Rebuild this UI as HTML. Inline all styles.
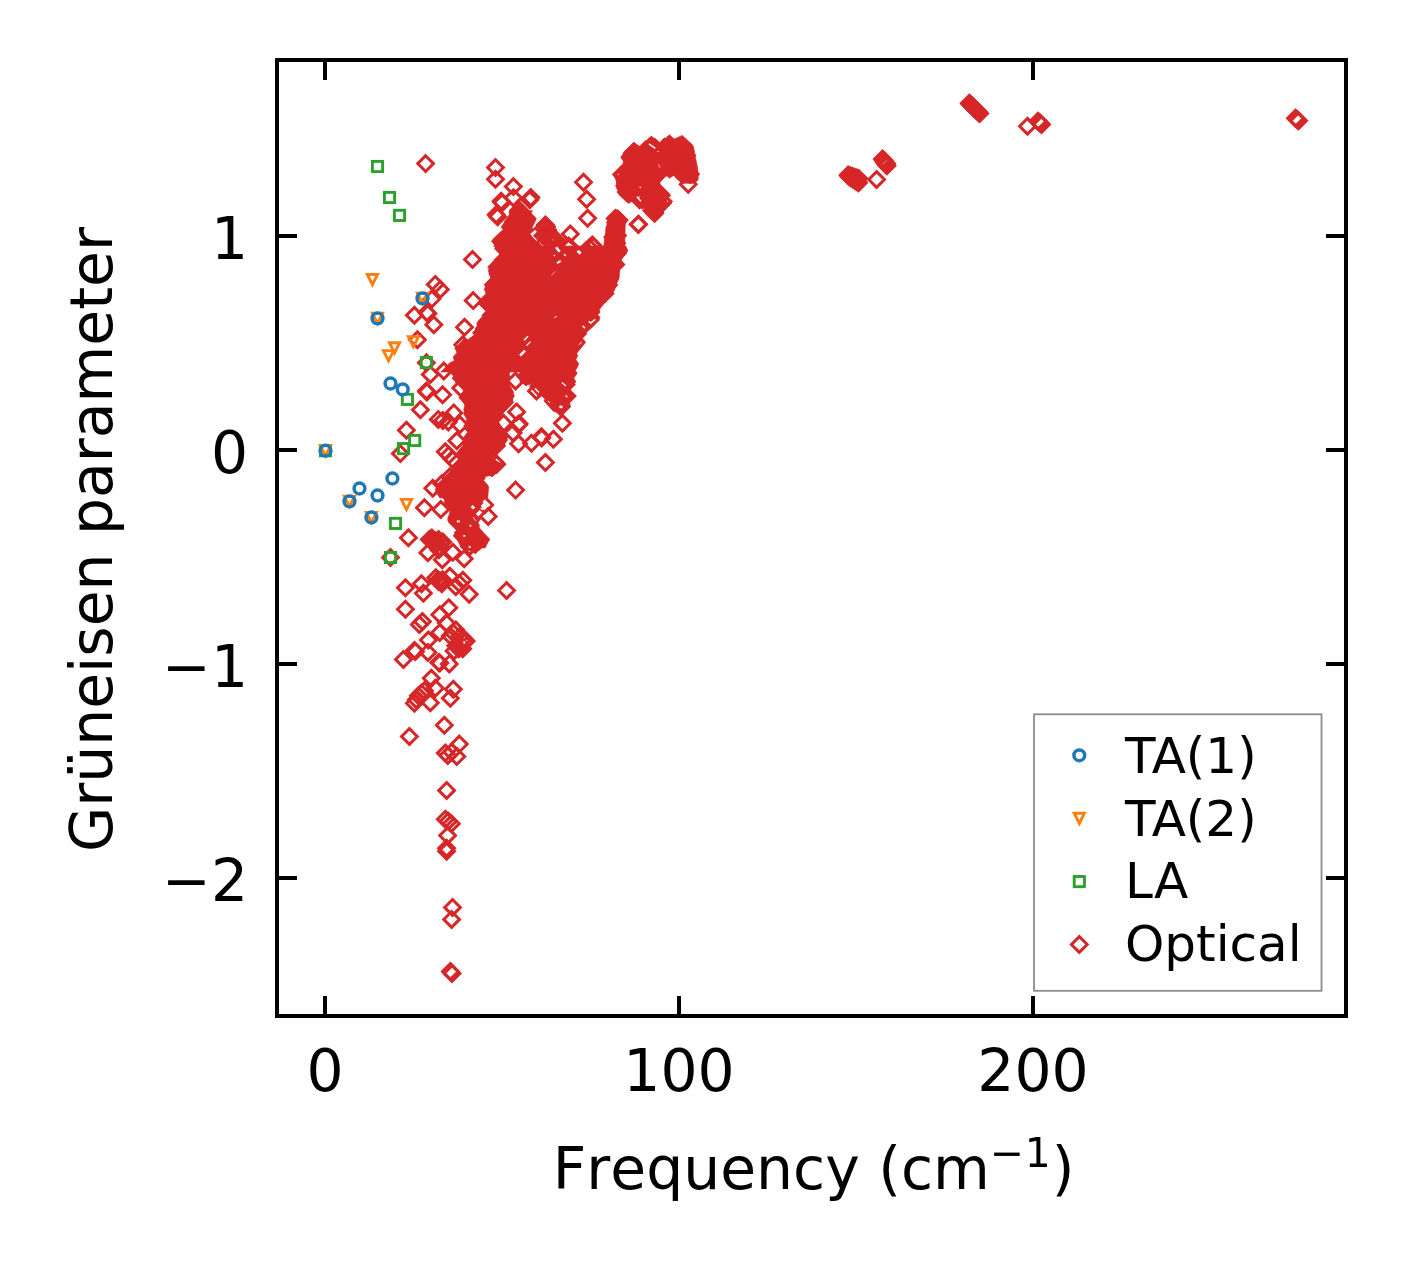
<!DOCTYPE html>
<html><head><meta charset="utf-8"><title>Grüneisen parameter</title>
<style>html,body{margin:0;padding:0;background:#fff}svg{display:block}text{font-family:"DejaVu Sans","Liberation Sans",sans-serif;fill:#000}</style></head><body>
<svg width="1406" height="1264" viewBox="0 0 1406 1264">
<rect width="1406" height="1264" fill="#fff"/>
<defs>
<path id="d" d="M0,-7.875L7.875,0L0,7.875L-7.875,0Z" fill="none" stroke="#d62728" stroke-width="3" stroke-linejoin="miter"/>
<rect id="s" x="-5.1" y="-5.1" width="10.2" height="10.2" fill="none" stroke="#2ca02c" stroke-width="2.9"/>
<path id="t" d="M-5.1,-5.1L5.1,-5.1L0,5.1Z" fill="none" stroke="#ff7f0e" stroke-width="2.9" stroke-linejoin="miter" stroke-miterlimit="10"/>
<circle id="c" r="5.4" fill="none" stroke="#1f77b4" stroke-width="3.5"/>
</defs>
<g fill="#d62728" stroke="#d62728" stroke-width="0.6">
<polygon points="493.7,246.0 500.6,253.5 491.7,263.4 488.2,270.4 490.7,277.9 484.7,287.9 485.7,293.9 481.7,297.8 479.7,304.8 487.2,311.3 479.7,319.8 475.7,328.8 473.7,335.7 467.7,339.7 464.7,338.7 455.8,348.7 456.8,352.7 453.3,356.7 454.3,360.7 449.8,362.7 440.8,372.0 520.0,372.0 520.0,246.0"/>
<polygon points="520.0,199.8 512.6,206.7 508.6,215.7 501.1,227.2 503.1,229.7 492.7,239.6 494.7,246.0 520.0,246.0"/>
<polygon points="650.6,137.4 641.1,146.9 633.7,142.9 623.7,152.9 622.2,156.9 624.2,161.9 622.7,165.9 613.7,174.3 616.2,179.8 617.2,187.8 619.2,194.8 628.2,203.3 634.7,197.3 643.1,207.7 646.6,206.7 644.6,210.7 655.1,221.2 660.0,217.2 660.0,143.9"/>
<polygon points="617.2,209.2 608.2,218.2 606.7,225.7 605.2,233.7 603.7,246.0 624.7,246.0 625.2,225.7 626.7,218.7"/>
<polygon points="520.0,202.8 524.0,206.7 527.0,210.7 532.5,210.7 530.5,214.2 536.0,219.7 532.0,227.7 535.0,229.7 530.0,233.7 534.0,239.6 537.9,246.0 520.0,246.0"/>
<polygon points="633.4,142.9 640.9,149.4 650.3,137.4 659.3,144.9 669.3,134.7 674.3,138.9 682.3,135.4 692.7,144.9 694.2,149.9 695.7,158.9 697.2,165.8 698.2,173.8 698.2,179.8 694.7,183.3 681.8,183.3 673.8,175.3 669.8,178.3 664.8,174.8 659.3,180.8 659.8,184.3 670.8,195.2 668.8,197.7 672.8,201.2 654.3,221.2 644.4,211.7 646.9,208.2 645.4,205.7 641.9,207.2 634.4,199.7 628.9,203.2 619.4,194.7 617.9,188.8 616.0,179.8 613.5,174.3 622.4,165.8 623.9,159.9 622.4,155.9 623.9,151.9"/>
<polygon points="520.0,246.0 625.7,246.0 627.7,250.0 620.7,261.0 623.7,264.4 619.7,268.9 619.2,277.9 615.7,285.9 614.7,289.9 607.7,298.8 599.3,309.8 599.8,312.3 596.8,315.8 599.8,319.8 590.8,328.8 587.8,329.7 581.8,337.7 585.8,342.2 576.8,353.2 577.8,355.7 575.8,359.7 578.8,363.6 577.3,367.6 574.3,372.0 520.0,372.0"/>
<polygon points="451.8,372.0 455.8,382.0 464.7,388.9 459.8,396.9 464.7,404.9 463.7,413.9 466.7,418.9 464.7,427.8 467.7,431.8 463.7,437.8 462.8,445.8 457.8,451.8 458.8,459.7 453.8,467.7 449.8,471.7 443.8,477.7 437.8,483.7 435.8,491.6 439.8,498.0 487.7,498.0 488.7,486.7 483.7,480.7 484.7,476.7 494.7,474.7 502.6,464.7 489.7,456.7 499.6,451.8 507.6,439.8 504.6,431.8 498.6,421.9 503.6,411.9 512.6,401.9 513.6,391.9 507.6,382.0 509.6,372.0"/>
<polygon points="520.0,372.0 576.8,372.0 576.8,374.0 573.8,378.0 575.3,382.0 569.9,389.9 572.8,395.9 567.9,400.9 570.3,404.4 560.9,413.9 552.9,410.9 543.9,400.9 545.9,397.9 541.4,395.9 539.4,397.4 530.0,387.0 532.0,383.0 526.0,385.0 520.0,382.0"/>
<polygon points="444.2,498.0 445.0,505.0 450.2,510.1 448.5,516.9 447.6,520.3 454.4,526.3 457.9,529.7 454.4,534.9 457.9,540.9 461.3,547.9 467.7,549.8 475.7,553.8 479.7,547.9 485.2,547.9 489.5,539.1 486.9,536.6 480.9,530.6 478.3,525.4 478.3,518.6 474.9,513.5 478.3,508.4 480.9,503.2 485.2,498.0"/>
</g>
<g>
<use href="#d" x="472.5" y="259.5"/>
<use href="#d" x="435.3" y="284.4"/>
<use href="#d" x="440.3" y="289.4"/>
<use href="#d" x="431.8" y="299.0"/>
<use href="#d" x="426.9" y="312.6"/>
<use href="#d" x="427.9" y="313.6"/>
<use href="#d" x="414.4" y="315.3"/>
<use href="#d" x="433.8" y="324.8"/>
<use href="#d" x="417.4" y="339.7"/>
<use href="#d" x="473.2" y="300.6"/>
<use href="#d" x="464.5" y="327.3"/>
<use href="#d" x="426.4" y="362.7"/>
<use href="#d" x="462.8" y="344.7"/>
<use href="#d" x="425.6" y="163.6"/>
<use href="#d" x="495.5" y="167.6"/>
<use href="#d" x="495.5" y="179.3"/>
<use href="#d" x="513.4" y="186.6"/>
<use href="#d" x="513.4" y="197.8"/>
<use href="#d" x="501.1" y="201.3"/>
<use href="#d" x="502.1" y="202.8"/>
<use href="#d" x="496.2" y="214.7"/>
<use href="#d" x="497.6" y="216.7"/>
<use href="#d" x="583.5" y="182.3"/>
<use href="#d" x="586.6" y="199.3"/>
<use href="#d" x="587.6" y="218.2"/>
<use href="#d" x="570.3" y="234.0"/>
<use href="#d" x="638.4" y="224.2"/>
<use href="#d" x="530.8" y="197.6"/>
<use href="#d" x="529.8" y="199.8"/>
<use href="#d" x="545.4" y="225.0"/>
<use href="#d" x="546.4" y="226.7"/>
<use href="#d" x="543.4" y="228.2"/>
<use href="#d" x="547.4" y="229.7"/>
<use href="#d" x="548.9" y="233.2"/>
<use href="#d" x="545.9" y="234.7"/>
<use href="#d" x="550.9" y="236.7"/>
<use href="#d" x="552.9" y="239.6"/>
<use href="#d" x="548.9" y="241.1"/>
<use href="#d" x="542.9" y="235.7"/>
<use href="#d" x="544.9" y="242.6"/>
<use href="#d" x="568.9" y="246.1"/>
<use href="#d" x="639.6" y="199.8"/>
<use href="#d" x="638.4" y="224.5"/>
<use href="#d" x="688.2" y="184.3"/>
<use href="#d" x="650.3" y="147.7"/>
<use href="#d" x="651.3" y="149.1"/>
<use href="#d" x="568.9" y="247.8"/>
<use href="#d" x="592.3" y="245.0"/>
<use href="#d" x="589.5" y="247.8"/>
<use href="#d" x="586.6" y="250.6"/>
<use href="#d" x="583.8" y="253.3"/>
<use href="#d" x="593.3" y="246.5"/>
<use href="#d" x="552.9" y="243.8"/>
<use href="#d" x="555.9" y="239.8"/>
<use href="#d" x="430.3" y="374.5"/>
<use href="#d" x="443.8" y="371.0"/>
<use href="#d" x="426.4" y="390.9"/>
<use href="#d" x="426.9" y="391.9"/>
<use href="#d" x="442.6" y="394.7"/>
<use href="#d" x="420.4" y="409.7"/>
<use href="#d" x="406.4" y="430.3"/>
<use href="#d" x="400.4" y="453.6"/>
<use href="#d" x="438.3" y="419.4"/>
<use href="#d" x="442.8" y="420.4"/>
<use href="#d" x="448.3" y="421.9"/>
<use href="#d" x="453.8" y="412.9"/>
<use href="#d" x="459.8" y="424.8"/>
<use href="#d" x="456.8" y="440.8"/>
<use href="#d" x="460.8" y="388.0"/>
<use href="#d" x="445.3" y="451.8"/>
<use href="#d" x="448.8" y="455.3"/>
<use href="#d" x="452.3" y="459.2"/>
<use href="#d" x="432.8" y="488.2"/>
<use href="#d" x="515.6" y="381.0"/>
<use href="#d" x="516.6" y="411.9"/>
<use href="#d" x="503.6" y="423.3"/>
<use href="#d" x="513.1" y="432.8"/>
<use href="#d" x="518.6" y="443.8"/>
<use href="#d" x="494.7" y="462.2"/>
<use href="#d" x="496.7" y="464.2"/>
<use href="#d" x="515.6" y="490.1"/>
<use href="#d" x="441.8" y="483.7"/>
<use href="#d" x="449.8" y="476.7"/>
<use href="#d" x="562.4" y="423.3"/>
<use href="#d" x="553.4" y="439.3"/>
<use href="#d" x="541.4" y="436.8"/>
<use href="#d" x="541.7" y="438.0"/>
<use href="#d" x="531.5" y="443.3"/>
<use href="#d" x="545.4" y="462.5"/>
<use href="#d" x="519.0" y="423.8"/>
<use href="#d" x="518.6" y="424.8"/>
<use href="#d" x="560.9" y="406.9"/>
<use href="#d" x="566.9" y="395.9"/>
<use href="#d" x="536.5" y="390.9"/>
<use href="#d" x="526.0" y="376.5"/>
<use href="#d" x="390.5" y="557.5"/>
<use href="#d" x="424.4" y="507.7"/>
<use href="#d" x="440.8" y="509.5"/>
<use href="#d" x="408.4" y="537.7"/>
<use href="#d" x="506.6" y="590.5"/>
<use href="#d" x="405.4" y="587.7"/>
<use href="#d" x="405.4" y="609.2"/>
<use href="#d" x="421.4" y="583.7"/>
<use href="#d" x="423.4" y="593.2"/>
<use href="#d" x="437.8" y="580.3"/>
<use href="#d" x="438.3" y="581.3"/>
<use href="#d" x="449.8" y="576.3"/>
<use href="#d" x="462.8" y="580.3"/>
<use href="#d" x="459.3" y="583.5"/>
<use href="#d" x="455.8" y="586.7"/>
<use href="#d" x="469.2" y="594.2"/>
<use href="#d" x="448.8" y="607.7"/>
<use href="#d" x="439.8" y="614.7"/>
<use href="#d" x="429.4" y="539.4"/>
<use href="#d" x="431.8" y="537.9"/>
<use href="#d" x="442.8" y="541.9"/>
<use href="#d" x="427.9" y="552.8"/>
<use href="#d" x="442.3" y="559.8"/>
<use href="#d" x="452.8" y="552.3"/>
<use href="#d" x="464.2" y="558.8"/>
<use href="#d" x="469.7" y="546.4"/>
<use href="#d" x="480.2" y="539.4"/>
<use href="#d" x="464.2" y="535.9"/>
<use href="#d" x="484.7" y="505.0"/>
<use href="#d" x="488.2" y="516.4"/>
<use href="#d" x="472.2" y="507.5"/>
<use href="#d" x="457.8" y="520.9"/>
<use href="#d" x="470.2" y="525.4"/>
<use href="#d" x="435.8" y="544.9"/>
<use href="#d" x="438.8" y="549.8"/>
<use href="#d" x="439.8" y="580.8"/>
<use href="#d" x="435.8" y="577.8"/>
<use href="#d" x="441.8" y="583.7"/>
<use href="#d" x="403.4" y="659.4"/>
<use href="#d" x="409.4" y="736.5"/>
<use href="#d" x="444.3" y="725.2"/>
<use href="#d" x="459.3" y="744.1"/>
<use href="#d" x="431.3" y="678.3"/>
<use href="#d" x="453.3" y="689.3"/>
<use href="#d" x="450.3" y="698.3"/>
<use href="#d" x="435.3" y="688.3"/>
<use href="#d" x="430.3" y="702.8"/>
<use href="#d" x="414.4" y="703.3"/>
<use href="#d" x="416.4" y="699.8"/>
<use href="#d" x="418.4" y="695.8"/>
<use href="#d" x="421.4" y="693.3"/>
<use href="#d" x="424.4" y="690.8"/>
<use href="#d" x="419.4" y="624.5"/>
<use href="#d" x="422.4" y="621.5"/>
<use href="#d" x="428.4" y="640.0"/>
<use href="#d" x="414.4" y="650.4"/>
<use href="#d" x="415.4" y="651.4"/>
<use href="#d" x="427.9" y="652.4"/>
<use href="#d" x="439.8" y="632.5"/>
<use href="#d" x="438.8" y="662.4"/>
<use href="#d" x="439.8" y="663.1"/>
<use href="#d" x="449.3" y="663.9"/>
<use href="#d" x="446.3" y="623.0"/>
<use href="#d" x="455.8" y="630.0"/>
<use href="#d" x="453.3" y="633.0"/>
<use href="#d" x="450.3" y="636.0"/>
<use href="#d" x="464.2" y="642.4"/>
<use href="#d" x="456.8" y="756.5"/>
<use href="#d" x="445.3" y="753.0"/>
<use href="#d" x="447.8" y="755.5"/>
<use href="#d" x="451.8" y="752.0"/>
<use href="#d" x="446.6" y="790.4"/>
<use href="#d" x="445.3" y="819.3"/>
<use href="#d" x="448.3" y="821.3"/>
<use href="#d" x="451.3" y="823.8"/>
<use href="#d" x="447.6" y="835.5"/>
<use href="#d" x="446.6" y="848.2"/>
<use href="#d" x="446.6" y="851.2"/>
<use href="#d" x="452.5" y="907.4"/>
<use href="#d" x="451.6" y="919.4"/>
<use href="#d" x="450.4" y="971.5"/>
<use href="#d" x="452.0" y="973.5"/>
<use href="#d" x="848.2" y="175.1"/>
<use href="#d" x="850.3" y="175.8"/>
<use href="#d" x="852.4" y="176.5"/>
<use href="#d" x="854.6" y="177.2"/>
<use href="#d" x="856.7" y="177.9"/>
<use href="#d" x="858.8" y="178.6"/>
<use href="#d" x="849.0" y="176.5"/>
<use href="#d" x="850.9" y="177.7"/>
<use href="#d" x="852.8" y="179.0"/>
<use href="#d" x="854.7" y="180.2"/>
<use href="#d" x="856.6" y="181.5"/>
<use href="#d" x="858.5" y="182.7"/>
<use href="#d" x="853.0" y="178.5"/>
<use href="#d" x="856.0" y="180.5"/>
<use href="#d" x="876.6" y="179.5"/>
<use href="#d" x="882.5" y="159.0"/>
<use href="#d" x="883.6" y="160.7"/>
<use href="#d" x="884.7" y="162.4"/>
<use href="#d" x="885.8" y="164.1"/>
<use href="#d" x="886.9" y="165.8"/>
<use href="#d" x="884.0" y="160.5"/>
<use href="#d" x="886.5" y="163.5"/>
<use href="#d" x="969.3" y="103.3"/>
<use href="#d" x="970.4" y="104.4"/>
<use href="#d" x="971.6" y="105.5"/>
<use href="#d" x="972.7" y="106.7"/>
<use href="#d" x="973.9" y="107.8"/>
<use href="#d" x="975.0" y="108.9"/>
<use href="#d" x="976.2" y="110.0"/>
<use href="#d" x="977.3" y="111.2"/>
<use href="#d" x="978.5" y="112.3"/>
<use href="#d" x="979.6" y="113.4"/>
<use href="#d" x="1027.5" y="126.2"/>
<use href="#d" x="1038.0" y="121.3"/>
<use href="#d" x="1039.8" y="122.9"/>
<use href="#d" x="1041.5" y="124.5"/>
<use href="#d" x="1295.5" y="118.2"/>
<use href="#d" x="1297.0" y="119.5"/>
<use href="#d" x="1298.5" y="120.8"/>
<use href="#d" x="504.0" y="248.7"/>
<use href="#d" x="503.3" y="260.3"/>
<use href="#d" x="498.9" y="266.9"/>
<use href="#d" x="497.2" y="267.0"/>
<use href="#d" x="498.3" y="274.0"/>
<use href="#d" x="493.6" y="284.8"/>
<use href="#d" x="493.7" y="289.5"/>
<use href="#d" x="495.4" y="287.5"/>
<use href="#d" x="490.3" y="300.5"/>
<use href="#d" x="487.4" y="303.0"/>
<use href="#d" x="488.5" y="303.8"/>
<use href="#d" x="491.4" y="315.2"/>
<use href="#d" x="486.9" y="321.9"/>
<use href="#d" x="486.0" y="323.8"/>
<use href="#d" x="484.8" y="328.6"/>
<use href="#d" x="482.0" y="332.7"/>
<use href="#d" x="473.0" y="345.5"/>
<use href="#d" x="466.2" y="349.0"/>
<use href="#d" x="464.2" y="348.4"/>
<use href="#d" x="465.9" y="349.2"/>
<use href="#d" x="463.4" y="357.7"/>
<use href="#d" x="456.4" y="369.2"/>
<use href="#d" x="520.1" y="211.0"/>
<use href="#d" x="517.4" y="218.0"/>
<use href="#d" x="513.9" y="221.2"/>
<use href="#d" x="512.1" y="226.2"/>
<use href="#d" x="507.9" y="235.0"/>
<use href="#d" x="500.9" y="241.2"/>
<use href="#d" x="503.7" y="239.7"/>
<use href="#d" x="651.5" y="145.7"/>
<use href="#d" x="645.6" y="150.1"/>
<use href="#d" x="632.8" y="153.4"/>
<use href="#d" x="634.0" y="151.7"/>
<use href="#d" x="631.6" y="159.4"/>
<use href="#d" x="632.7" y="157.8"/>
<use href="#d" x="631.1" y="168.1"/>
<use href="#d" x="624.5" y="172.8"/>
<use href="#d" x="623.3" y="176.0"/>
<use href="#d" x="621.8" y="174.4"/>
<use href="#d" x="625.8" y="182.7"/>
<use href="#d" x="625.9" y="188.0"/>
<use href="#d" x="626.4" y="192.0"/>
<use href="#d" x="641.1" y="193.6"/>
<use href="#d" x="648.8" y="201.9"/>
<use href="#d" x="643.2" y="197.4"/>
<use href="#d" x="654.5" y="212.0"/>
<use href="#d" x="655.0" y="147.7"/>
<use href="#d" x="650.2" y="146.4"/>
<use href="#d" x="616.5" y="222.4"/>
<use href="#d" x="615.2" y="227.5"/>
<use href="#d" x="613.0" y="237.2"/>
<use href="#d" x="614.9" y="241.8"/>
<use href="#d" x="616.5" y="243.2"/>
<use href="#d" x="614.5" y="237.6"/>
<use href="#d" x="617.4" y="235.6"/>
<use href="#d" x="615.1" y="229.8"/>
<use href="#d" x="615.9" y="222.5"/>
<use href="#d" x="618.9" y="220.1"/>
<use href="#d" x="615.3" y="218.6"/>
<use href="#d" x="518.7" y="210.4"/>
<use href="#d" x="518.4" y="212.3"/>
<use href="#d" x="526.8" y="218.5"/>
<use href="#d" x="523.6" y="223.2"/>
<use href="#d" x="526.9" y="242.1"/>
<use href="#d" x="529.9" y="244.4"/>
<use href="#d" x="634.7" y="155.2"/>
<use href="#d" x="647.3" y="150.8"/>
<use href="#d" x="653.6" y="147.4"/>
<use href="#d" x="650.9" y="147.7"/>
<use href="#d" x="664.6" y="147.2"/>
<use href="#d" x="668.0" y="146.0"/>
<use href="#d" x="684.1" y="147.4"/>
<use href="#d" x="684.1" y="151.1"/>
<use href="#d" x="686.5" y="155.5"/>
<use href="#d" x="686.0" y="159.9"/>
<use href="#d" x="685.9" y="164.5"/>
<use href="#d" x="687.6" y="168.9"/>
<use href="#d" x="690.1" y="174.3"/>
<use href="#d" x="689.8" y="173.7"/>
<use href="#d" x="682.8" y="174.5"/>
<use href="#d" x="679.0" y="171.1"/>
<use href="#d" x="660.5" y="172.0"/>
<use href="#d" x="649.0" y="182.5"/>
<use href="#d" x="657.4" y="192.4"/>
<use href="#d" x="660.0" y="193.9"/>
<use href="#d" x="662.1" y="203.2"/>
<use href="#d" x="660.2" y="203.6"/>
<use href="#d" x="654.6" y="213.2"/>
<use href="#d" x="652.0" y="210.4"/>
<use href="#d" x="654.6" y="203.2"/>
<use href="#d" x="640.1" y="197.0"/>
<use href="#d" x="642.4" y="199.8"/>
<use href="#d" x="641.6" y="198.1"/>
<use href="#d" x="629.4" y="193.1"/>
<use href="#d" x="627.1" y="189.0"/>
<use href="#d" x="624.9" y="185.7"/>
<use href="#d" x="626.4" y="177.9"/>
<use href="#d" x="626.9" y="170.8"/>
<use href="#d" x="632.7" y="164.0"/>
<use href="#d" x="631.7" y="155.7"/>
<use href="#d" x="630.1" y="157.3"/>
<use href="#d" x="618.2" y="251.2"/>
<use href="#d" x="617.1" y="253.4"/>
<use href="#d" x="615.6" y="264.4"/>
<use href="#d" x="610.2" y="271.4"/>
<use href="#d" x="609.2" y="279.0"/>
<use href="#d" x="608.4" y="285.1"/>
<use href="#d" x="604.8" y="293.4"/>
<use href="#d" x="601.5" y="294.4"/>
<use href="#d" x="597.6" y="298.6"/>
<use href="#d" x="594.0" y="302.8"/>
<use href="#d" x="590.5" y="312.0"/>
<use href="#d" x="590.6" y="317.6"/>
<use href="#d" x="587.7" y="320.5"/>
<use href="#d" x="579.8" y="329.5"/>
<use href="#d" x="577.3" y="333.7"/>
<use href="#d" x="573.9" y="343.5"/>
<use href="#d" x="571.2" y="347.6"/>
<use href="#d" x="567.3" y="367.0"/>
<use href="#d" x="460.9" y="371.5"/>
<use href="#d" x="463.2" y="378.1"/>
<use href="#d" x="461.6" y="378.2"/>
<use href="#d" x="464.8" y="382.0"/>
<use href="#d" x="469.4" y="395.5"/>
<use href="#d" x="468.4" y="397.8"/>
<use href="#d" x="473.1" y="409.6"/>
<use href="#d" x="473.6" y="412.2"/>
<use href="#d" x="475.0" y="423.2"/>
<use href="#d" x="473.7" y="428.2"/>
<use href="#d" x="473.2" y="425.7"/>
<use href="#d" x="473.1" y="437.4"/>
<use href="#d" x="471.4" y="442.6"/>
<use href="#d" x="466.2" y="452.8"/>
<use href="#d" x="469.2" y="457.7"/>
<use href="#d" x="465.1" y="465.2"/>
<use href="#d" x="461.4" y="467.2"/>
<use href="#d" x="457.1" y="475.2"/>
<use href="#d" x="454.0" y="477.8"/>
<use href="#d" x="446.3" y="491.7"/>
<use href="#d" x="444.5" y="489.5"/>
<use href="#d" x="478.5" y="493.0"/>
<use href="#d" x="478.0" y="486.5"/>
<use href="#d" x="478.4" y="485.5"/>
<use href="#d" x="476.0" y="478.0"/>
<use href="#d" x="483.9" y="467.4"/>
<use href="#d" x="492.0" y="467.6"/>
<use href="#d" x="491.3" y="466.4"/>
<use href="#d" x="486.2" y="464.3"/>
<use href="#d" x="486.7" y="447.5"/>
<use href="#d" x="496.3" y="445.7"/>
<use href="#d" x="494.4" y="443.8"/>
<use href="#d" x="497.2" y="440.6"/>
<use href="#d" x="498.6" y="437.0"/>
<use href="#d" x="497.0" y="434.9"/>
<use href="#d" x="495.7" y="431.7"/>
<use href="#d" x="495.0" y="429.7"/>
<use href="#d" x="490.3" y="416.9"/>
<use href="#d" x="497.4" y="409.0"/>
<use href="#d" x="501.6" y="404.6"/>
<use href="#d" x="504.2" y="402.3"/>
<use href="#d" x="502.7" y="399.7"/>
<use href="#d" x="505.0" y="396.1"/>
<use href="#d" x="501.7" y="388.0"/>
<use href="#d" x="500.6" y="376.2"/>
<use href="#d" x="499.9" y="373.8"/>
<use href="#d" x="567.3" y="372.5"/>
<use href="#d" x="565.9" y="384.5"/>
<use href="#d" x="566.4" y="381.5"/>
<use href="#d" x="564.0" y="383.0"/>
<use href="#d" x="561.2" y="406.2"/>
<use href="#d" x="558.4" y="402.0"/>
<use href="#d" x="546.2" y="390.8"/>
<use href="#d" x="539.2" y="386.3"/>
<use href="#d" x="529.4" y="375.4"/>
<use href="#d" x="454.0" y="502.7"/>
<use href="#d" x="454.5" y="505.5"/>
<use href="#d" x="457.2" y="517.9"/>
<use href="#d" x="458.1" y="522.2"/>
<use href="#d" x="457.6" y="520.0"/>
<use href="#d" x="462.6" y="535.8"/>
<use href="#d" x="463.7" y="532.7"/>
<use href="#d" x="468.0" y="541.0"/>
<use href="#d" x="469.9" y="540.4"/>
<use href="#d" x="475.7" y="543.7"/>
<use href="#d" x="478.7" y="541.3"/>
<use href="#d" x="477.3" y="536.4"/>
<use href="#d" x="473.4" y="532.1"/>
<use href="#d" x="467.7" y="520.6"/>
<use href="#d" x="471.1" y="519.3"/>
<use href="#d" x="471.5" y="505.0"/>
<use href="#d" x="473.6" y="503.0"/>
<use href="#d" x="477.1" y="495.6"/>
<use href="#d" x="432.5" y="540.5"/>
<use href="#d" x="440.5" y="541.9"/>
<use href="#d" x="440.5" y="548.0"/>
<use href="#d" x="435.5" y="540.9"/>
<use href="#d" x="438.5" y="539.4"/>
<use href="#d" x="434.7" y="541.2"/>
<use href="#d" x="441.5" y="582.0"/>
<use href="#d" x="442.5" y="579.7"/>
<use href="#d" x="454.1" y="650.9"/>
<use href="#d" x="463.3" y="638.7"/>
<use href="#d" x="458.8" y="648.7"/>
<use href="#d" x="466.1" y="640.9"/>
<use href="#d" x="455.8" y="645.8"/>
<use href="#d" x="460.1" y="636.5"/>
<use href="#d" x="462.7" y="648.7"/>
<use href="#d" x="458.4" y="642.9"/>
</g>
<g stroke="#fff" fill="none">
<line x1="556.1" y1="247.2" x2="559.7" y2="251.8" stroke-width="2.5"/>
<line x1="577.6" y1="250.8" x2="580.6" y2="253.8" stroke-width="3.0"/>
<line x1="557.1" y1="263.1" x2="560.7" y2="260.8" stroke-width="2.0"/>
<line x1="524.0" y1="340.2" x2="528.0" y2="336.2" stroke-width="1.5"/>
<line x1="526.5" y1="345.7" x2="530.5" y2="341.7" stroke-width="1.2"/>
<line x1="520.0" y1="355.7" x2="525.0" y2="350.7" stroke-width="2.5"/>
<line x1="588.8" y1="321.3" x2="591.0" y2="323.5" stroke-width="1.5"/>
<line x1="590.3" y1="323.3" x2="595.3" y2="319.3" stroke-width="1.5"/>
<line x1="582.8" y1="325.8" x2="584.8" y2="328.3" stroke-width="1.5"/>
<line x1="578.8" y1="344.7" x2="581.8" y2="342.2" stroke-width="1.0"/>
<line x1="551.4" y1="275.4" x2="555.4" y2="271.4" stroke-width="0.6"/>
<line x1="553.9" y1="317.8" x2="556.9" y2="316.3" stroke-width="0.8"/>
<line x1="563.9" y1="254.0" x2="565.9" y2="256.0" stroke-width="1.2"/>
<line x1="553.9" y1="255.0" x2="554.9" y2="256.0" stroke-width="1.2"/>
<line x1="561.9" y1="382.5" x2="565.9" y2="386.0" stroke-width="1.2"/>
<line x1="535.0" y1="388.5" x2="538.9" y2="392.4" stroke-width="1.4"/>
<line x1="565.4" y1="395.4" x2="567.4" y2="397.4" stroke-width="1.2"/>
<line x1="547.9" y1="400.9" x2="549.9" y2="402.9" stroke-width="1.0"/>
<line x1="559.4" y1="406.9" x2="562.4" y2="406.9" stroke-width="2.5"/>
<line x1="471.7" y1="506.0" x2="474.2" y2="508.5" stroke-width="3.0"/>
<line x1="456.8" y1="521.4" x2="459.8" y2="521.4" stroke-width="2.0"/>
<line x1="463.3" y1="535.9" x2="465.2" y2="535.9" stroke-width="1.8"/>
<line x1="468.7" y1="546.9" x2="470.7" y2="546.9" stroke-width="2.0"/>
<line x1="469.7" y1="524.9" x2="471.2" y2="526.4" stroke-width="1.4"/>
<line x1="473.2" y1="516.9" x2="475.7" y2="520.9" stroke-width="0.8"/>
<line x1="480.7" y1="508.0" x2="482.7" y2="510.0" stroke-width="1.2"/>
<line x1="485.7" y1="517.4" x2="488.2" y2="515.4" stroke-width="1.4"/>
<line x1="463.3" y1="642.4" x2="465.2" y2="642.4" stroke-width="2.2"/>
<line x1="449.8" y1="657.9" x2="451.8" y2="660.9" stroke-width="0.8"/>
<line x1="448.8" y1="664.9" x2="450.8" y2="664.9" stroke-width="1.4"/>
<line x1="648.9" y1="143.9" x2="655.3" y2="148.4" stroke-width="1.4"/>
<line x1="658.1" y1="150.9" x2="658.1" y2="152.1" stroke-width="1.2"/>
<line x1="658.6" y1="164.3" x2="659.8" y2="167.8" stroke-width="0.6"/>
<line x1="639.7" y1="186.6" x2="640.7" y2="188.0" stroke-width="1.2"/>
<line x1="636.9" y1="196.7" x2="640.9" y2="201.2" stroke-width="1.4"/>
<line x1="638.4" y1="197.7" x2="639.9" y2="196.7" stroke-width="1.0"/>
<line x1="667.5" y1="200.7" x2="667.5" y2="201.9" stroke-width="1.0"/>
<line x1="618.4" y1="173.8" x2="618.4" y2="175.0" stroke-width="1.0"/>
</g>
<use href="#s" x="325.5" y="450.7"/>
<use href="#s" x="377.5" y="166.5"/>
<use href="#s" x="389.5" y="197.5"/>
<use href="#s" x="399.5" y="215.4"/>
<use href="#s" x="426.4" y="362.6"/>
<use href="#s" x="407.4" y="399.4"/>
<use href="#s" x="414.7" y="440.5"/>
<use href="#s" x="403.5" y="448.6"/>
<use href="#s" x="395.5" y="523.4"/>
<use href="#s" x="390.5" y="557.5"/>
<use href="#t" x="325.5" y="450.7"/>
<use href="#t" x="349.5" y="501.4"/>
<use href="#t" x="371.4" y="517.5"/>
<use href="#t" x="406.5" y="504.5"/>
<use href="#t" x="372.4" y="279.6"/>
<use href="#t" x="377.5" y="318.4"/>
<use href="#t" x="422.5" y="298.4"/>
<use href="#t" x="413.4" y="341.7"/>
<use href="#t" x="394.5" y="347.8"/>
<use href="#t" x="388.5" y="355.7"/>
<use href="#c" x="325.5" y="450.7"/>
<use href="#c" x="359.5" y="488.5"/>
<use href="#c" x="377.5" y="495.5"/>
<use href="#c" x="392.4" y="478.5"/>
<use href="#c" x="349.5" y="501.4"/>
<use href="#c" x="371.4" y="517.5"/>
<use href="#c" x="377.5" y="318.4"/>
<use href="#c" x="422.5" y="298.4"/>
<use href="#c" x="390.5" y="383.5"/>
<use href="#c" x="402.7" y="389.4"/>
<g stroke="#000" stroke-width="4" fill="none" stroke-linecap="butt">
<line x1="325" y1="1016" x2="325" y2="996"/><line x1="325" y1="60" x2="325" y2="80"/>
<line x1="679" y1="1016" x2="679" y2="996"/><line x1="679" y1="60" x2="679" y2="80"/>
<line x1="1033" y1="1016" x2="1033" y2="996"/><line x1="1033" y1="60" x2="1033" y2="80"/>
<line x1="277" y1="236" x2="297" y2="236"/><line x1="1346" y1="236" x2="1326" y2="236"/>
<line x1="277" y1="450" x2="297" y2="450"/><line x1="1346" y1="450" x2="1326" y2="450"/>
<line x1="277" y1="664" x2="297" y2="664"/><line x1="1346" y1="664" x2="1326" y2="664"/>
<line x1="277" y1="878" x2="297" y2="878"/><line x1="1346" y1="878" x2="1326" y2="878"/>
<rect x="277" y="60" width="1069" height="956" stroke-linejoin="miter"/>
</g>
<g font-size="58.33">
<text x="325" y="1090.5" text-anchor="middle">0</text>
<text x="679" y="1090.5" text-anchor="middle">100</text>
<text x="1033" y="1090.5" text-anchor="middle">200</text>
<text x="248" y="258.8" text-anchor="end">1</text>
<text x="248" y="472.8" text-anchor="end">0</text>
<text x="248" y="686.8" text-anchor="end">−1</text>
<text x="248" y="900.8" text-anchor="end">−2</text>
<text x="552.8" y="1189.4" style="font-kerning:none">Frequency (cm<tspan font-size="40.83" dy="-22.4" letter-spacing="0.8">−1</tspan><tspan dy="22.4">)</tspan></text>
<text transform="translate(112,539.5) rotate(-90)" text-anchor="middle">Grüneisen parameter</text>
</g>
<rect x="1034" y="714.3" width="287.5" height="276.5" fill="#fff" fill-opacity="0.8" stroke="#8c8c8c" stroke-width="1.8"/>
<use href="#c" x="1079.3" y="755.3"/><use href="#t" x="1079.3" y="818.3"/><use href="#s" x="1079.3" y="881.6"/><use href="#d" x="1079.3" y="944.5"/>
<g font-size="50">
<text x="1125" y="772.9">TA(1)</text>
<text x="1125" y="836">TA(2)</text>
<text x="1125" y="898.2">LA</text>
<text x="1125" y="960.7">Optical</text>
</g>
</svg></body></html>
